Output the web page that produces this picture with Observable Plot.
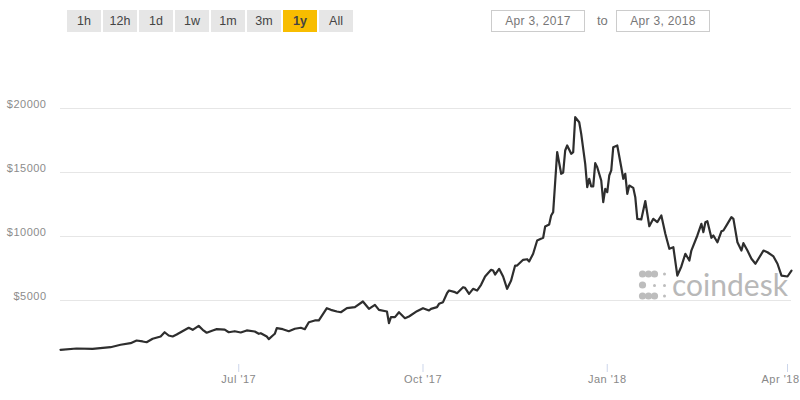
<!DOCTYPE html>
<html><head><meta charset="utf-8">
<script src="https://cdn.jsdelivr.net/npm/d3@7"></script>
<script src="https://cdn.jsdelivr.net/npm/@observablehq/plot@0.6"></script>
<style>
html,body{margin:0;padding:0;background:#fff;}
#wrap{position:relative;width:800px;height:400px;font-family:"Liberation Sans",Arial,sans-serif;}
#wrap svg{position:absolute;left:0;top:0;}
.btn{position:absolute;top:10px;width:34px;height:22px;background:#e6e6e6;color:#444;font-size:12.5px;line-height:22px;text-align:center;z-index:2;}
.btn.on{background:#f8bd00;font-weight:bold;color:#444;}
.date{position:absolute;top:10px;width:92px;height:20px;border:1px solid #ccc;color:#777;font-size:12px;line-height:20px;text-align:center;letter-spacing:0.3px;z-index:2;}
.to{position:absolute;top:10px;left:597px;height:22px;line-height:22px;color:#777;font-size:13px;z-index:2;}
</style></head><body><div id="wrap"></div>
<script>
const ranges = ["1h","12h","1d","1w","1m","3m","1y","All"];
const activeRange = "1y";
const dateFrom = "Apr 3, 2017";
const dateTo = "Apr 3, 2018";
const yTicks = [5000, 10000, 15000, 20000];
const xTickDates = ["2017-07-01","2017-10-01","2018-01-01","2018-04-01"];
const xTickLabels = ["Jul '17","Oct '17","Jan '18","Apr '18"];

const dates = [
"2017-04-03","2017-04-11","2017-04-19","2017-04-28","2017-05-03","2017-05-08","2017-05-11","2017-05-14","2017-05-16","2017-05-19",
"2017-05-23","2017-05-25","2017-05-27","2017-05-29","2017-05-31","2017-06-02","2017-06-06","2017-06-08","2017-06-11","2017-06-13",
"2017-06-15","2017-06-18","2017-06-20","2017-06-24","2017-06-26","2017-06-29","2017-07-02","2017-07-05","2017-07-09","2017-07-11",
"2017-07-12","2017-07-15","2017-07-16","2017-07-18","2017-07-19","2017-07-20","2017-07-23","2017-07-26","2017-07-29","2017-08-01",
"2017-08-03","2017-08-05","2017-08-08","2017-08-10","2017-08-14","2017-08-16","2017-08-19","2017-08-21","2017-08-24","2017-08-28",
"2017-09-01","2017-09-04","2017-09-07","2017-09-09","2017-09-13","2017-09-14","2017-09-15","2017-09-17","2017-09-19","2017-09-22",
"2017-09-24","2017-09-28","2017-10-01","2017-10-04","2017-10-05","2017-10-08","2017-10-09","2017-10-11","2017-10-13","2017-10-14",
"2017-10-17","2017-10-18","2017-10-21","2017-10-22","2017-10-24","2017-10-26","2017-10-28","2017-10-30","2017-11-01","2017-11-04",
"2017-11-05","2017-11-06","2017-11-08","2017-11-10","2017-11-12","2017-11-14","2017-11-16","2017-11-17","2017-11-20","2017-11-22",
"2017-11-23","2017-11-25","2017-11-27","2017-11-30","2017-12-01","2017-12-03","2017-12-04","2017-12-05","2017-12-07","2017-12-09",
"2017-12-10","2017-12-11","2017-12-12","2017-12-14","2017-12-15","2017-12-16","2017-12-18","2017-12-19","2017-12-21","2017-12-22",
"2017-12-23","2017-12-24","2017-12-25","2017-12-26","2017-12-27","2017-12-29","2017-12-30","2017-12-31","2018-01-01","2018-01-02",
"2018-01-03","2018-01-04","2018-01-06","2018-01-08","2018-01-09","2018-01-10","2018-01-11","2018-01-12","2018-01-14","2018-01-15",
"2018-01-16","2018-01-18","2018-01-20","2018-01-22","2018-01-24","2018-01-26","2018-01-28","2018-01-30","2018-02-01","2018-02-03",
"2018-02-05","2018-02-07","2018-02-09","2018-02-11","2018-02-12","2018-02-15","2018-02-17","2018-02-18","2018-02-19","2018-02-20",
"2018-02-22","2018-02-23","2018-02-25","2018-02-27","2018-02-28","2018-03-02","2018-03-04","2018-03-05","2018-03-07","2018-03-09",
"2018-03-10","2018-03-12","2018-03-14","2018-03-16","2018-03-20","2018-03-22","2018-03-25","2018-03-27","2018-03-29","2018-04-01",
"2018-04-03"
];
const prices = [
1150,1250,1225,1350,1540,1665,1875,1800,1740,2010,
2190,2520,2265,2190,2340,2520,2870,2710,3020,2710,
2480,2660,2760,2730,2520,2600,2500,2660,2580,2400,
2445,2190,1980,2265,2400,2840,2760,2600,2790,2870,
2760,3300,3440,3440,4400,4270,4140,4085,4400,4480,
4920,4350,4660,4270,4140,3230,3700,3700,4085,3620,
3750,4165,4400,4220,4350,4480,4740,4870,5570,5780,
5650,5570,6040,5990,5520,5910,5780,6230,6875,7400,
7340,7030,7475,6875,5910,6560,7730,7730,8180,8225,
8050,8650,9690,9900,10780,10940,11640,11900,16600,14900,
15000,16720,17110,16460,16590,19320,18930,18020,15680,13850,
14510,13910,13910,15730,15410,14375,12680,13725,13460,14765,
15160,16980,17110,15410,14510,14900,13330,13980,13800,13070,
11380,11330,12770,10800,11380,11120,11640,10210,9040,9160,
6950,7660,8650,8125,8900,10080,10990,10340,11120,11200,
9900,10080,9550,10410,10470,10990,11510,11380,9550,8900,
9480,8900,8260,7870,8900,8770,8440,7870,6950,6875,
7340
];

const data = dates.map((d, i) => ({date: new Date(d), price: prices[i]}));
const xTicks = xTickDates.map(d => new Date(d));
const labelMap = new Map(xTicks.map((d, i) => [d.getTime(), xTickLabels[i]]));
const fmtX = d => labelMap.get(d.getTime());

const wrap = document.getElementById("wrap");

const plot = Plot.plot({
  width: 800,
  height: 400,
  marginLeft: 60,
  marginRight: 9,
  marginTop: 44,
  marginBottom: 36,
  style: {fontFamily: "'Liberation Sans', Arial, sans-serif", fontSize: "11px", letterSpacing: "0.5px", background: "transparent", overflow: "visible"},
  x: {type: "utc", domain: [new Date("2017-04-03"), new Date("2018-04-03")]},
  y: {domain: [0, 25000]},
  marks: [
    Plot.gridY(yTicks, {stroke: "#e6e6e6", strokeOpacity: 1}),
    Plot.axisY(yTicks, {tickSize: 0, tickPadding: 14, tickFormat: d => "$" + d, fill: "#8c8c8c", dy: -4.5, label: null}),
    Plot.axisX(xTicks.slice(0, 3), {tickSize: 8, tickPadding: 3, tickFormat: fmtX, stroke: "#ccd6eb", strokeOpacity: 1, fill: "#888", label: null}),
    Plot.axisX(xTicks.slice(3), {tickSize: 8, tickPadding: 3, tickFormat: null, text: null, stroke: "#ccd6eb", strokeOpacity: 1, label: null}),
    Plot.axisX(xTicks.slice(3), {tickSize: 0, tickPadding: 11, tickFormat: fmtX, fill: "#888", dx: -7, label: null}),
    Plot.line(data, {x: "date", y: "price", stroke: "#2e2e2e", strokeWidth: 2.2})
  ]
});

// coindesk watermark behind the line
const svg = d3.select(plot);
const logo = svg.insert("g", "g[aria-label='line']").attr("fill", "#bdbdbd").attr("text-anchor", "start");
const bigDots = [[642.5,274],[648.5,274],[654.5,274],[642.5,285],[642.5,296],[648.5,296],[654.5,296]];
const smallDots = [[654.5,285.5],[664.5,285.5],[664.5,296],[664.5,274]];
logo.selectAll("circle.b").data(bigDots).join("circle").attr("cx", d => d[0]).attr("cy", d => d[1]).attr("r", 3.6);
logo.selectAll("circle.s").data(smallDots).join("circle").attr("cx", d => d[0]).attr("cy", d => d[1]).attr("r", 1.5);
logo.append("text").attr("x", 672).attr("y", 296).attr("text-anchor", "start").attr("font-family", "Lato, 'Open Sans', sans-serif")
  .attr("font-size", 30).attr("letter-spacing", "0px").attr("fill", "#b8b8b8").text("coindesk");

wrap.appendChild(plot);

ranges.forEach((r, i) => {
  const b = document.createElement("div");
  b.className = "btn" + (r === activeRange ? " on" : "");
  b.style.left = (67 + i * 36) + "px";
  b.textContent = r;
  wrap.appendChild(b);
});
const d1 = document.createElement("div");
d1.className = "date"; d1.style.left = "491px"; d1.textContent = dateFrom;
wrap.appendChild(d1);
const t = document.createElement("div");
t.className = "to"; t.textContent = "to";
wrap.appendChild(t);
const d2 = document.createElement("div");
d2.className = "date"; d2.style.left = "616px"; d2.textContent = dateTo;
wrap.appendChild(d2);
</script>
</body></html>
